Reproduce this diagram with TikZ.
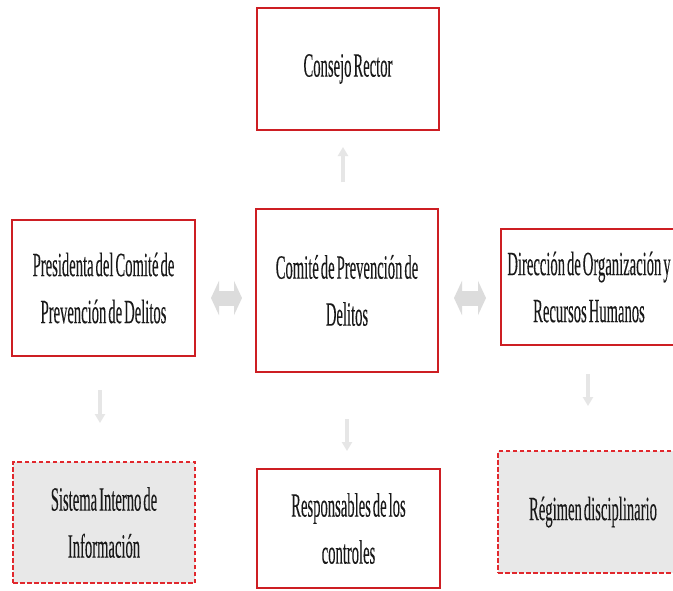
\documentclass[tikz,border=0pt]{standalone}
\usepackage{fontspec}
\newfontfamily\cf[FakeStretch=0.43,FakeBold=0.15,WordSpace=0.55]{Liberation Serif}
\usetikzlibrary{arrows.meta}
\definecolor{boxred}{RGB}{205,30,35}
\definecolor{dashred}{RGB}{225,40,45}
\definecolor{boxgray}{RGB}{232,232,232}
\definecolor{arrgray}{RGB}{220,220,220}
\definecolor{arrlight}{RGB}{230,230,230}
\definecolor{txt}{RGB}{25,25,25}
\tikzset{
  solidbox/.style={draw=boxred, line width=1.5pt, fill=white, inner sep=0pt, align=center,
    text=txt, font={\cf\fontsize{34}{47}\selectfont}},
  dashbox/.style={draw=dashred, line width=2pt, dash pattern=on 4.5pt off 2.5pt, fill=boxgray,
    inner sep=0pt, align=center, text=txt, font={\cf\fontsize{34}{47}\selectfont}},
  thinarrow/.style={draw=arrlight, line width=4pt, -{Triangle[width=10pt,length=9pt]}},
  fatarrow/.style={draw=arrgray, line width=15pt, {Triangle[width=34pt,length=8pt]}-{Triangle[width=34pt,length=8pt]}}
}
\begin{document}
\begin{tikzpicture}[x=1pt,y=-1pt]
\useasboundingbox (0,0) rectangle (673,590);
\clip (0,0) rectangle (673,590);
\fill[white] (0,0) rectangle (673,590);

\node[solidbox, minimum width=182pt, minimum height=122pt] (cr) at (348,69) {Consejo Rector};
\node[solidbox, minimum width=182pt, minimum height=163pt] (cp) at (347,290.5) {Comité de Prevención de\\Delitos};
\node[solidbox, minimum width=183pt, minimum height=136pt] (pr) at (103.5,288) {Presidenta del Comité de\\Prevención de Delitos};
\node[solidbox, minimum width=176pt, minimum height=116pt] (do) at (589,287) {Dirección de Organización y\\Recursos Humanos};
\node[dashbox, minimum width=182pt, minimum height=121pt] (si) at (104,522.5) {Sistema Interno de\\Información};
\node[solidbox, minimum width=183pt, minimum height=119pt] (rc) at (348.5,528.5) {Responsables de los\\controles};
\node[dashbox, minimum width=190pt, minimum height=122pt] (rd) at (593,512) {Régimen disciplinario};

% free ends of the floating arrows
\coordinate (upA) at (343,182);
\coordinate (upB) at (343,147);
\coordinate (lA) at (211,298);
\coordinate (lB) at (242,298);
\coordinate (rA) at (454,298);
\coordinate (rB) at (486,298);
\coordinate (dlA) at (100,390);
\coordinate (dlB) at (100,423);
\coordinate (dmA) at (347,419);
\coordinate (dmB) at (347,451);
\coordinate (drA) at (588,374);
\coordinate (drB) at (588,406);

\draw[thinarrow] (upA) -- (upB);
\draw[fatarrow] (lA) -- (lB);
\draw[fatarrow] (rA) -- (rB);
\draw[thinarrow] (dlA) -- (dlB);
\draw[thinarrow] (dmA) -- (dmB);
\draw[thinarrow] (drA) -- (drB);
\end{tikzpicture}
\end{document}
